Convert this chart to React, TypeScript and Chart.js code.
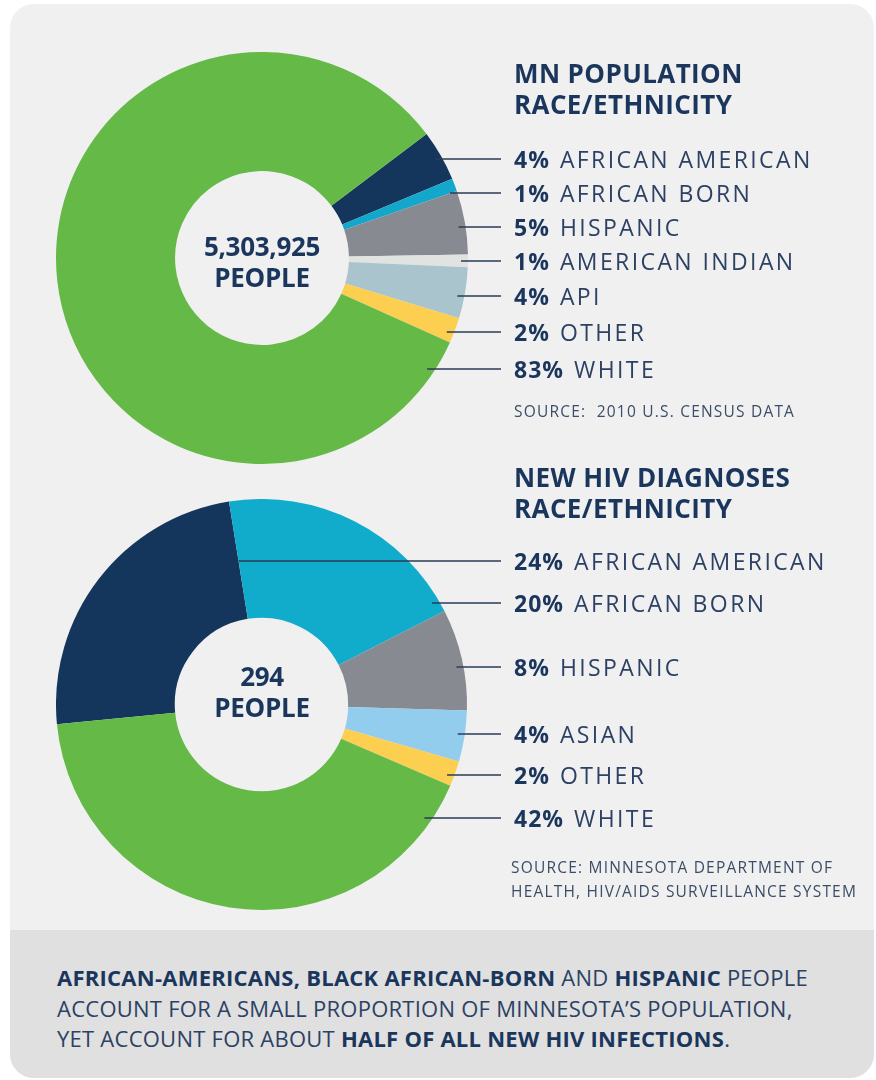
import React, { useEffect, useRef } from "react";
import { Chart, registerables } from "chart.js";

Chart.register(...registerables);

// ---------- data ----------
const popCategories = ["AFRICAN AMERICAN", "AFRICAN BORN", "HISPANIC", "AMERICAN INDIAN", "API", "OTHER", "WHITE"];
const popValues = [4, 1, 5, 1, 4, 2, 83];
const popColors = ["#15365c", "#13a8cb", "#878a90", "#e1e3e0", "#a9c4cd", "#fdcf50", "#64b947"];
const popTotalLabel = ["5,303,925", "PEOPLE"];

const hivCategories = ["AFRICAN AMERICAN", "AFRICAN BORN", "HISPANIC", "ASIAN", "OTHER", "WHITE"];
const hivValues = [24, 20, 8, 4, 2, 42];
const hivColors = ["#15365c", "#11abcc", "#878a90", "#93cdee", "#fdcf50", "#64b947"];
const hivTotalLabel = ["294", "PEOPLE"];

// ---------- layout (page coordinates) ----------
const NAVY = "#1b365d";
const LINE_END_X = 501;
const popLabelY = [159, 193, 227, 261, 296, 332, 369];
const hivLabelY = [561, 603, 667, 734, 775, 818];

type DonutProps = {
  values: number[];
  colors: string[];
  labelY: number[];
  rotation: number;
  left: number;
  top: number;
  size: number;
};

const CANVAS_EXTRA_RIGHT = 50;

function Donut({ values, colors, labelY, rotation, left, top, size }: DonutProps) {
  const ref = useRef<HTMLCanvasElement | null>(null);
  useEffect(() => {
    if (!ref.current) return;
    const leaderPlugin = {
      id: "leaders",
      afterDraw(chart: any) {
        const ctx = chart.ctx;
        const meta = chart.getDatasetMeta(0);
        ctx.save();
        ctx.strokeStyle = "#2a3c57";
        ctx.lineWidth = 1.6;
        meta.data.forEach((arc: any, i: number) => {
          const p = arc.getProps(["x", "y", "startAngle", "endAngle", "outerRadius"], true);
          const ly = labelY[i] - top;
          const dy = ly - p.y;
          const r = p.outerRadius - 7;
          let x0 = p.x;
          const span = p.endAngle - p.startAngle;
          const inside = (a: number) => {
            let d = (a - p.startAngle) % (Math.PI * 2);
            if (d < 0) d += Math.PI * 2;
            return d <= span;
          };
          if (Math.abs(dy) < r) {
            const xa = p.x + Math.sqrt(r * r - dy * dy);
            const a = Math.atan2(dy, xa - p.x);
            if (inside(a)) {
              x0 = xa;
            } else {
              const e = p.endAngle;
              const t = dy / Math.sin(e);
              x0 = p.x + t * Math.cos(e);
            }
          }
          ctx.beginPath();
          ctx.moveTo(x0, ly);
          ctx.lineTo(LINE_END_X - left, ly);
          ctx.stroke();
        });
        ctx.restore();
      },
    };
    const chart = new Chart(ref.current, {
      type: "doughnut",
      data: {
        labels: values.map((v) => String(v)),
        datasets: [
          {
            data: values,
            backgroundColor: colors,
            borderWidth: 0,
            hoverOffset: 0,
          },
        ],
      },
      options: {
        animation: false,
        responsive: false,
        maintainAspectRatio: false,
        cutout: "42.2%",
        rotation,
        layout: { padding: { left: 0, right: CANVAS_EXTRA_RIGHT, top: 0, bottom: 0 } },
        plugins: { legend: { display: false }, tooltip: { enabled: false } },
        events: [],
      },
      plugins: [leaderPlugin],
    });
    return () => chart.destroy();
  }, []);
  return (
    <canvas
      ref={ref}
      width={size + CANVAS_EXTRA_RIGHT}
      height={size}
      style={{ position: "absolute", left, top, width: size + CANVAS_EXTRA_RIGHT, height: size }}
    />
  );
}

const FONT = "'Open Sans', 'Noto Sans', sans-serif";

function Abs({ x, y, children, style }: { x: number; y: number; children: React.ReactNode; style?: React.CSSProperties }) {
  return (
    <div
      style={{
        position: "absolute",
        left: x,
        top: y - 20,
        height: 40,
        lineHeight: "40px",
        whiteSpace: "nowrap",
        fontFamily: FONT,
        color: NAVY,
        ...style,
      }}
    >
      {children}
    </div>
  );
}

function LabelRow({ y, pct, name }: { y: number; pct: number; name: string }) {
  return (
    <Abs x={514} y={y} style={{ fontSize: 23 }}>
      <span style={{ fontWeight: 700, letterSpacing: 1 }}>{pct}%</span>
      <span style={{ fontWeight: 400, letterSpacing: 2.4, marginLeft: 10, color: "#2c4164" }}>{name}</span>
    </Abs>
  );
}

const headingStyle: React.CSSProperties = { fontSize: 26, fontWeight: 700, letterSpacing: 0.4 };
const centerStyle: React.CSSProperties = { fontSize: 26, fontWeight: 700, letterSpacing: -0.3 };
const sourceStyle: React.CSSProperties = { fontSize: 15.5, fontWeight: 400, color: "#3b4d66", letterSpacing: 1.2 };
const footerStyle: React.CSSProperties = { fontSize: 22, fontWeight: 400, color: "#2c4164", letterSpacing: 0.25 };

export default function App() {
  return (
    <div style={{ position: "absolute", left: 0, top: 0, width: 876, height: 1080, background: "#ffffff", overflow: "hidden" }}>
      <div
        style={{
          position: "absolute",
          left: 10,
          top: 4,
          width: 864,
          height: 1074,
          borderRadius: 24,
          background: "#f0f0f0",
          overflow: "hidden",
        }}
      >
        <div style={{ position: "absolute", left: 0, top: 926, width: 864, height: 160, background: "#dfe0df" }} />
      </div>

      <Donut values={popValues} colors={popColors} labelY={popLabelY} rotation={53} left={56} top={52} size={412} />
      <Donut values={hivValues} colors={hivColors} labelY={hivLabelY} rotation={264.5} left={56} top={499} size={411} />

      {/* center labels */}
      <div style={{ position: "absolute", left: 162, width: 200, top: 231, textAlign: "center", fontFamily: FONT, color: NAVY, lineHeight: "31px", ...centerStyle }}>
        {popTotalLabel.map((t) => (
          <div key={t}>{t}</div>
        ))}
      </div>
      <div style={{ position: "absolute", left: 162, width: 200, top: 661, textAlign: "center", fontFamily: FONT, color: NAVY, lineHeight: "31px", ...centerStyle }}>
        {hivTotalLabel.map((t) => (
          <div key={t}>{t}</div>
        ))}
      </div>

      {/* chart 1 text */}
      <Abs x={514} y={73} style={headingStyle}>MN POPULATION</Abs>
      <Abs x={514} y={104} style={headingStyle}>RACE/ETHNICITY</Abs>
      {popCategories.map((c, i) => (
        <LabelRow key={c} y={popLabelY[i]} pct={popValues[i]} name={c} />
      ))}
      <Abs x={514} y={411} style={sourceStyle}>SOURCE:&nbsp; 2010 U.S. CENSUS DATA</Abs>

      {/* chart 2 text */}
      <Abs x={514} y={477} style={headingStyle}>NEW HIV DIAGNOSES</Abs>
      <Abs x={514} y={508} style={headingStyle}>RACE/ETHNICITY</Abs>
      {hivCategories.map((c, i) => (
        <LabelRow key={c} y={hivLabelY[i]} pct={hivValues[i]} name={c} />
      ))}
      <Abs x={511} y={867} style={sourceStyle}>SOURCE: MINNESOTA DEPARTMENT OF</Abs>
      <Abs x={511} y={891} style={sourceStyle}>HEALTH, HIV/AIDS SURVEILLANCE SYSTEM</Abs>

      {/* footer */}
      <Abs x={57} y={977} style={footerStyle}>
        <b style={{ color: NAVY }}>AFRICAN-AMERICANS, BLACK AFRICAN-BORN</b> AND <b style={{ color: NAVY }}>HISPANIC</b> PEOPLE
      </Abs>
      <Abs x={57} y={1008} style={footerStyle}>ACCOUNT FOR A SMALL PROPORTION OF MINNESOTA’S POPULATION,</Abs>
      <Abs x={57} y={1038} style={footerStyle}>
        YET ACCOUNT FOR ABOUT <b style={{ color: NAVY }}>HALF OF ALL NEW HIV INFECTIONS</b>.
      </Abs>
    </div>
  );
}
